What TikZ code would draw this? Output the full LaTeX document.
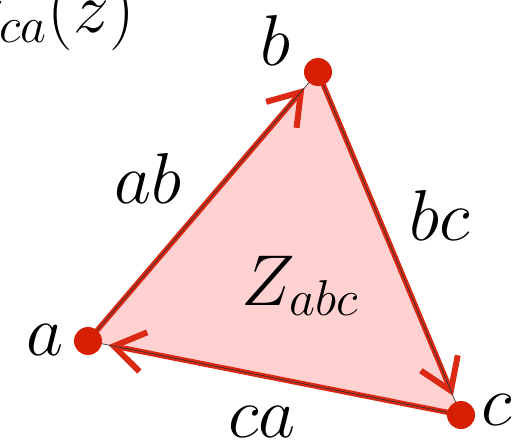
\RequirePackage{fix-cm}
\documentclass[tikz,border=0pt]{standalone}
\usepackage{amsmath}
\usepackage{tikz}
\usetikzlibrary{arrows.meta,calc}
\definecolor{dotred}{rgb}{0.84,0.12,0.0}
\definecolor{edgered}{rgb}{0.86,0.16,0.08}
\definecolor{pastelpink}{rgb}{1.0,0.82,0.82}
\tikzset{
  punto/.style={
    circle,
    fill=dotred,
    inner sep=0pt,
    minimum size=0.56cm
  },
  etiq/.style={
    inner sep=0pt,
    anchor=base,
    font=\fontsize{41}{49}\selectfont
  },
  lado/.style={
    -{Straight Barb[length=6mm,width=8mm,line width=3.4pt]},
    line width=3pt,
    edgered,
    shorten >=0.42cm,
    shorten <=0.2cm
  },
  borde/.style={
    thin,
    black!80
  }
}
\begin{document}
\begin{tikzpicture}[x=0.02cm,y=-0.02cm]
\useasboundingbox (0,0) rectangle (517,443);
\coordinate (pa) at (88,341);
\coordinate (pb) at (318,72);
\coordinate (pc) at (461,415);
\fill[pastelpink] (pa) -- (pb) -- (pc) -- cycle;
% lados
\draw[lado] (pa) -- (pb);
\draw[lado] (pb) -- (pc);
\draw[lado] (pc) -- (pa);
\draw[borde] (pa) -- (pb) -- (pc) -- cycle;
% vertices
\node[punto] (a) at (pa) {};
\node[punto] (b) at (pb) {};
\node[punto] (c) at (pc) {};
\node[etiq] (la) at (45,355) {$a$};
\node[etiq] (lb) at (275,65) {$b$};
\node[etiq] (lc) at (497,425) {$c$};
\node[etiq] (lab) at (148,203) {$ab$};
\node[etiq] (lbc) at (440,240) {$bc$};
\node[etiq] (lca) at (262,437) {$ca$};
\node[etiq] (lz) at (300,305) {$Z_{abc}$};
\node[etiq,anchor=base east] (lg) at (135,32) {$\gamma_{ca}(z)$};
\end{tikzpicture}
\end{document}
